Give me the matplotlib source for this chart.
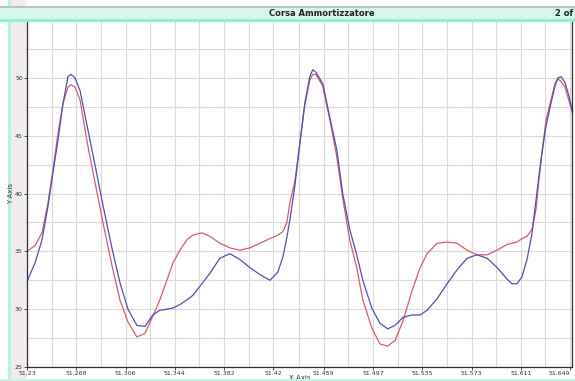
import numpy as np
import matplotlib
matplotlib.use("Agg")
import matplotlib.pyplot as plt
from matplotlib.patches import Rectangle

# sample positions (X Axis) and the two traces
x_vals = [51.2300, 51.2362, 51.2416, 51.2462, 51.2500, 51.2539, 51.2578, 51.2616,
          51.2639, 51.2670, 51.2709, 51.2763, 51.2824, 51.2886, 51.2955, 51.3017,
          51.3079, 51.3148, 51.3210, 51.3271, 51.3325, 51.3379, 51.3426, 51.3480,
          51.3534, 51.3580, 51.3649, 51.3711, 51.3788, 51.3865, 51.3942, 51.4019,
          51.4096, 51.4174, 51.4235, 51.4274, 51.4305, 51.4328, 51.4366, 51.4405,
          51.4443, 51.4482, 51.4505, 51.4528, 51.4582, 51.4636, 51.4690, 51.4736,
          51.4790, 51.4844, 51.4891, 51.4960, 51.5022, 51.5083, 51.5140, 51.5202,
          51.5271, 51.5333, 51.5387, 51.5464, 51.5541, 51.5618, 51.5695, 51.5772,
          51.5850, 51.5927, 51.6004, 51.6042, 51.6081, 51.6119, 51.6158, 51.6196,
          51.6227, 51.6250, 51.6273, 51.6304, 51.6343, 51.6374, 51.6397, 51.6420,
          51.6451, 51.6482, 51.6520]

red_vals = [35.0, 35.5, 36.6, 39.2, 42.0, 45.2, 47.8, 49.2,
            49.4, 49.2, 48.1, 44.5, 41.0, 37.5, 33.8, 30.8,
            28.9, 27.6, 27.9, 29.4, 30.8, 32.5, 34.0, 35.1,
            36.0, 36.4, 36.6, 36.3, 35.7, 35.3, 35.1, 35.3,
            35.7, 36.1, 36.4, 36.7, 37.5, 39.2, 41.0, 44.3,
            47.6, 49.8, 50.3, 50.3, 49.3, 46.4, 43.2, 39.6,
            36.0, 33.6, 30.8, 28.4, 27.0, 26.8, 27.3, 29.0,
            31.6, 33.6, 34.8, 35.7, 35.8, 35.7, 35.1, 34.7,
            34.7, 35.1, 35.6, 35.7, 35.8, 36.1, 36.3, 36.9,
            38.6, 41.2, 43.5, 46.3, 48.1, 49.5, 49.9, 49.7,
            49.2, 48.0, 46.5]

blue_vals = [32.4, 34.0, 36.0, 38.9, 41.8, 44.6, 47.8, 50.1,
             50.3, 50.0, 48.9, 45.9, 42.5, 39.0, 35.3, 32.3,
             30.0, 28.6, 28.5, 29.5, 29.9, 30.0, 30.1, 30.4,
             30.8, 31.2, 32.2, 33.1, 34.4, 34.8, 34.3, 33.6,
             33.0, 32.5, 33.2, 34.5, 36.2, 37.7, 40.6, 44.3,
             47.8, 50.1, 50.7, 50.5, 49.5, 46.6, 43.8, 40.0,
             36.9, 34.7, 32.5, 30.1, 28.8, 28.3, 28.6, 29.3,
             29.5, 29.5, 29.9, 30.9, 32.2, 33.4, 34.4, 34.7,
             34.4, 33.6, 32.6, 32.2, 32.2, 32.8, 34.3, 36.5,
             39.4, 41.5, 43.5, 45.8, 47.8, 49.3, 50.0, 50.1,
             49.6, 48.4, 46.5]

x_ticks = [51.23, 51.268, 51.306, 51.344, 51.382, 51.42, 51.459, 51.497,
           51.535, 51.573, 51.611, 51.649]
x_tick_labels = ["51.23", "51.268", "51.306", "51.344", "51.382", "51.42",
                 "51.459", "51.497", "51.535", "51.573", "51.611", "51.649"]
y_ticks = [25, 30, 35, 40, 45, 50, 55]

fig = plt.figure(figsize=(5.75, 3.81), dpi=100)
fig.patch.set_facecolor("white")

# left grey margin and the app frame bits
fig.add_artist(Rectangle((11 / 575, 0), 16 / 575, 1, transform=fig.transFigure,
                         facecolor="#f1ecee", edgecolor="none", zorder=-1))
fig.add_artist(Rectangle((8 / 575, 0), 3 / 575, 1, transform=fig.transFigure,
                         facecolor="#b9f2e2", edgecolor="none", zorder=-1))

ax = fig.add_axes([27 / 575, 1 - 367 / 381, 545 / 575, 347 / 381])
ax.set_facecolor("white")

xt = np.array(x_ticks)
ax.set_xticks(x_ticks)
ax.set_xticklabels(x_tick_labels)
ax.set_xticks((xt[:-1] + xt[1:]) / 2, minor=True)
ax.set_yticks(y_ticks)
ax.set_yticks(np.array(y_ticks[:-1]) + 2.5, minor=True)
ax.grid(True, which="both", color="#d9d9d9", lw=0.8)
ax.set_axisbelow(True)

ax.plot(x_vals, red_vals, color="#d45a72", lw=0.9)
ax.plot(x_vals, blue_vals, color="#5050aa", lw=0.9)

ax.set_xlim(51.23, 51.6505)
ax.set_ylim(25, 55)

for s in ["left", "bottom", "right"]:
    ax.spines[s].set_color("#303030")
    ax.spines[s].set_linewidth(0.9)
ax.spines["top"].set_visible(False)

ax.tick_params(axis="both", which="major", labelsize=4.5, length=2, width=0.6,
               pad=1, colors="#333333")
ax.tick_params(axis="both", which="minor", length=0)
# the last label sits on the right edge, keep it inside the picture
ax.get_xticklabels()[-1].set_horizontalalignment("right")
ax.set_xlabel("X Axis", fontsize=5, labelpad=-1, color="#333333")
ax.set_ylabel("Y Axis", fontsize=5, labelpad=1, color="#333333")

# title bar of the window
fig.add_artist(Rectangle((0, 1 - 20 / 381), 1, 12 / 381, transform=fig.transFigure,
                         facecolor="#d4f7ea", edgecolor="none", zorder=5))
fig.add_artist(Rectangle((0, 1 - 22 / 381), 1, 3 / 381, transform=fig.transFigure,
                         facecolor="#8ff0d2", edgecolor="none", zorder=5))
fig.add_artist(Rectangle((0, 1 - 8 / 381), 1, 2 / 381, transform=fig.transFigure,
                         facecolor="#b8c4c0", edgecolor="none", zorder=5))
fig.add_artist(Rectangle((0, 0), 1, 2 / 381, transform=fig.transFigure,
                         facecolor="#c4f5e6", edgecolor="none", zorder=5))
fig.text(322 / 575, 1 - 14 / 381, "Corsa Ammortizzatore", ha="center", va="center",
         fontsize=6, fontweight="bold", color="#222222", zorder=6)
fig.text(573 / 575, 1 - 14 / 381, "2 of", ha="right", va="center",
         fontsize=6, fontweight="bold", color="#222222", zorder=6)

fig.savefig("out.png", dpi=100)
